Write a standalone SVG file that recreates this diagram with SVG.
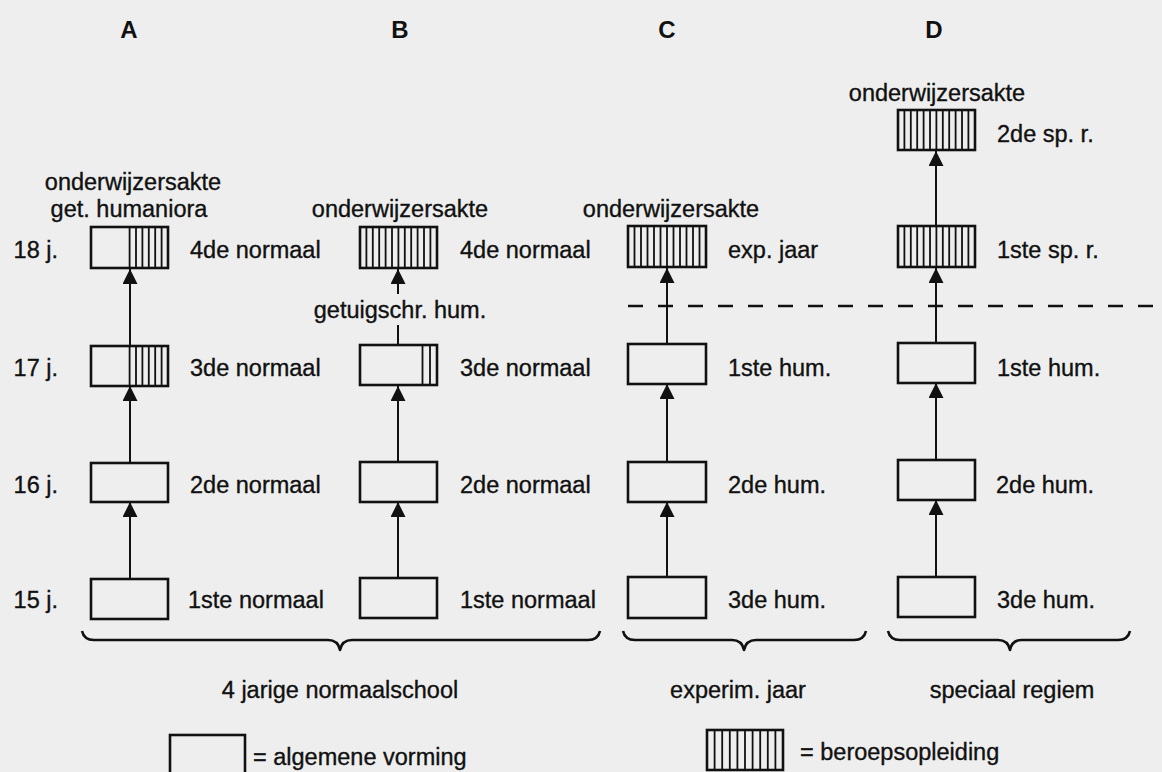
<svg xmlns="http://www.w3.org/2000/svg" width="1162" height="772" viewBox="0 0 1162 772">
<defs>
<style>
.t{font-family:"Liberation Sans",Arial,sans-serif;font-size:23.5px;fill:#111;stroke:#111;stroke-width:0.35}
.h{font-family:"Liberation Sans",Arial,sans-serif;font-size:24px;font-weight:bold;fill:#111}
.m{text-anchor:middle}
.e{text-anchor:end}
.box{fill:none;stroke:#111;stroke-width:2.6}
.hatch{fill:none;stroke:#111;stroke-width:1.8}
.arr{fill:none;stroke:#111;stroke-width:2;marker-end:url(#ah)}
.ln{fill:none;stroke:#111;stroke-width:2}
.brace{fill:none;stroke:#111;stroke-width:2.6;stroke-linejoin:round}
.dash{fill:none;stroke:#111;stroke-width:2.4;stroke-dasharray:15 15}
</style>
<marker id="ah" markerWidth="15" markerHeight="15" refX="15" refY="7.5" orient="auto" markerUnits="userSpaceOnUse">
<path d="M0,0 L15,7.5 L0,15 Z" fill="#111"/>
</marker>
</defs>
<rect width="1162" height="772" fill="#eeeeee"/>

<g id="headers">
<text class="h m" x="129" y="38">A</text>
<text class="h m" x="400" y="38">B</text>
<text class="h m" x="667" y="38">C</text>
<text class="h m" x="934" y="38">D</text>
</g>

<g id="ages">
<text class="t e" x="58" y="258">18 j.</text>
<text class="t e" x="58" y="376">17 j.</text>
<text class="t e" x="58" y="493">16 j.</text>
<text class="t e" x="58" y="608">15 j.</text>
</g>

<g id="connectors">
<path class="arr" d="M130,579 V502"/>
<path class="arr" d="M130,463 V386"/>
<path class="arr" d="M130,346 V269"/>
<path class="arr" d="M398,578 V502"/>
<path class="arr" d="M398,462 V386"/>
<path class="ln" d="M398,345 V325"/>
<path class="arr" d="M398,294 V269"/>
<path class="arr" d="M667,577 V502"/>
<path class="arr" d="M667,462 V384"/>
<path class="arr" d="M667,344 V268"/>
<path class="arr" d="M936,577 V500"/>
<path class="arr" d="M936,459 V383"/>
<path class="arr" d="M936,343 V268"/>
<path class="arr" d="M936,226 V151"/>
</g>

<g id="node-A-18">
<text class="t m" x="133" y="190">onderwijzersakte</text>
<text class="t m" x="129" y="217">get. humaniora</text>
<rect class="box" x="91" y="227" width="77" height="41"/>
<path class="hatch" d="M129.6,227V268M136,227V268M142.4,227V268M148.8,227V268M155.2,227V268M161.6,227V268"/>
<text class="t" x="190" y="258">4de normaal</text>
</g>
<g id="node-A-17">
<rect class="box" x="91" y="346" width="77" height="40"/>
<path class="hatch" d="M129.6,346V386M136,346V386M142.4,346V386M148.8,346V386M155.2,346V386M161.6,346V386"/>
<text class="t" x="190" y="376">3de normaal</text>
</g>
<g id="node-A-16">
<rect class="box" x="91" y="463" width="77" height="39"/>
<text class="t" x="190" y="493">2de normaal</text>
</g>
<g id="node-A-15">
<rect class="box" x="91" y="579" width="77" height="40"/>
<text class="t" x="188" y="608">1ste normaal</text>
</g>

<g id="node-B-18">
<text class="t m" x="400" y="217">onderwijzersakte</text>
<rect class="box" x="360" y="227" width="77" height="41"/>
<path class="hatch" d="M366.4,227V268M372.8,227V268M379.2,227V268M385.6,227V268M392,227V268M398.4,227V268M404.8,227V268M411.2,227V268M417.6,227V268M424,227V268M430.4,227V268"/>
<text class="t" x="460" y="258">4de normaal</text>
</g>
<g id="node-B-getuigschrift">
<text class="t m" x="400" y="318">getuigschr. hum.</text>
</g>
<g id="node-B-17">
<rect class="box" x="360" y="345" width="77" height="40"/>
<path class="hatch" d="M422.5,345V385M430,345V385"/>
<text class="t" x="460" y="376">3de normaal</text>
</g>
<g id="node-B-16">
<rect class="box" x="360" y="462" width="77" height="40"/>
<text class="t" x="460" y="493">2de normaal</text>
</g>
<g id="node-B-15">
<rect class="box" x="360" y="578" width="77" height="40"/>
<text class="t" x="460" y="608">1ste normaal</text>
</g>

<g id="node-C-exp">
<text class="t m" x="671" y="217">onderwijzersakte</text>
<rect class="box" x="628" y="226" width="78" height="41"/>
<path class="hatch" d="M634.5,226V267M641,226V267M647.5,226V267M654,226V267M660.5,226V267M667,226V267M673.5,226V267M680,226V267M686.5,226V267M693,226V267M699.5,226V267"/>
<text class="t" x="728" y="258">exp. jaar</text>
</g>
<g id="node-C-17">
<rect class="box" x="628" y="344" width="78" height="40"/>
<text class="t" x="728" y="376">1ste hum.</text>
</g>
<g id="node-C-16">
<rect class="box" x="628" y="462" width="78" height="40"/>
<text class="t" x="728" y="493">2de hum.</text>
</g>
<g id="node-C-15">
<rect class="box" x="628" y="577" width="78" height="41"/>
<text class="t" x="728" y="608">3de hum.</text>
</g>

<g id="node-D-2sp">
<text class="t m" x="937" y="101">onderwijzersakte</text>
<rect class="box" x="898" y="110" width="77" height="40"/>
<path class="hatch" d="M904.4,110V150M910.8,110V150M917.2,110V150M923.6,110V150M930,110V150M936.4,110V150M942.8,110V150M949.2,110V150M955.6,110V150M962,110V150M968.4,110V150"/>
<text class="t" x="997" y="142">2de sp. r.</text>
</g>
<g id="node-D-1sp">
<rect class="box" x="898" y="226" width="77" height="41"/>
<path class="hatch" d="M904.4,226V267M910.8,226V267M917.2,226V267M923.6,226V267M930,226V267M936.4,226V267M942.8,226V267M949.2,226V267M955.6,226V267M962,226V267M968.4,226V267"/>
<text class="t" x="997" y="258">1ste sp. r.</text>
</g>
<g id="node-D-17">
<rect class="box" x="898" y="343" width="77" height="40"/>
<text class="t" x="997" y="376">1ste hum.</text>
</g>
<g id="node-D-16">
<rect class="box" x="898" y="460" width="77" height="40"/>
<text class="t" x="996" y="493">2de hum.</text>
</g>
<g id="node-D-15">
<rect class="box" x="898" y="577" width="77" height="40"/>
<text class="t" x="997" y="608">3de hum.</text>
</g>

<g id="divider">
<path class="dash" d="M628,306 H1162"/>
</g>

<g id="braces">
<path class="brace" d="M82,631 Q84,640 94,640 L328,640 Q338,640 340,650 Q342,640 352,640 L588,640 Q598,640 600,631"/>
<text class="t m" x="340" y="698">4 jarige normaalschool</text>
<path class="brace" d="M623,631 Q625,640 635,640 L732,640 Q742,640 744,650 Q746,640 756,640 L854,640 Q864,640 866,631"/>
<text class="t m" x="738" y="698">experim. jaar</text>
<path class="brace" d="M888,631 Q890,640 900,640 L998,640 Q1008,640 1010,650 Q1012,640 1022,640 L1118,640 Q1128,640 1130,631"/>
<text class="t m" x="1012" y="698">speciaal regiem</text>
</g>

<g id="legend">
<rect class="box" x="170" y="735" width="75" height="42"/>
<text class="t" x="253" y="765">= algemene vorming</text>
<rect class="box" x="707" y="730" width="76" height="40"/>
<path class="hatch" d="M714.6,730V770M722.2,730V770M729.8,730V770M737.4,730V770M745,730V770M752.6,730V770M760.2,730V770M767.8,730V770M775.4,730V770"/>
<text class="t" x="800" y="760">= beroepsopleiding</text>
</g>
</svg>
